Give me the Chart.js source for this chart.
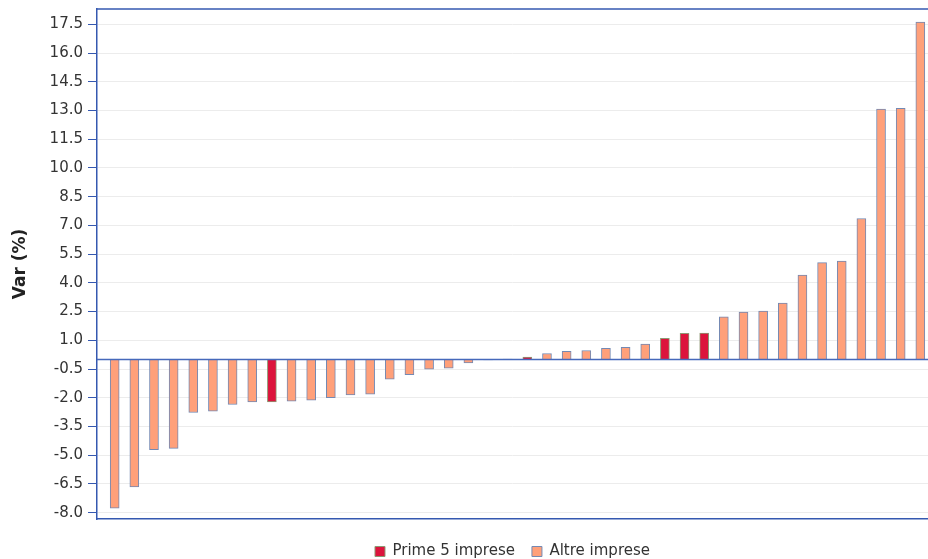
<!DOCTYPE html>
<html>
<head>
<meta charset="utf-8">
<script src="https://cdn.jsdelivr.net/npm/chart.js@4.4.1/dist/chart.umd.min.js"></script>
<style>
  html, body { margin: 0; padding: 0; background: #fff; }
  #wrap { width: 928px; height: 559px; }
</style>
</head>
<body>
<div id="wrap"><canvas id="chart" width="928" height="559"></canvas></div>
<script>
// variation per company, sorted ascending
const values = [
  -7.76, -6.66, -4.71, -4.64, -2.77, -2.70, -2.35, -2.22, -2.22, -2.18,
  -2.12, -1.99, -1.85, -1.81, -1.03, -0.80, -0.51, -0.46, -0.18, -0.03,
  0.02, 0.13, 0.31, 0.43, 0.47, 0.58, 0.64, 0.80, 1.11, 1.37,
  1.38, 2.22, 2.48, 2.53, 2.94, 4.41, 5.06, 5.14, 7.36, 13.08,
  13.11, 17.62
];
// positions of the five largest companies
const topFive = [8, 21, 28, 29, 30];
const seriesNames = ['Prime 5 imprese', 'Altre imprese'];
const yTicks = [-8.0, -6.5, -5.0, -3.5, -2.0, -0.5, 1.0, 2.5, 4.0, 5.5,
  7.0, 8.5, 10.0, 11.5, 13.0, 14.5, 16.0, 17.5];

const FONT = 'DejaVu Sans';
const axisBlue = '#3558b0';

const topPoints = [];
const otherPoints = [];
values.forEach((v, i) => {
  (topFive.includes(i) ? topPoints : otherPoints).push({ x: i, y: v });
});

// zero line and top frame, drawn over the bars
const frameLines = {
  id: 'frameLines',
  afterDatasetsDraw(chart) {
    const { ctx, chartArea: a, scales: { y } } = chart;
    const y0 = y.getPixelForValue(0);
    ctx.save();
    ctx.strokeStyle = '#4669bb';
    ctx.lineWidth = 1.5;
    ctx.beginPath();
    ctx.moveTo(a.left, y0);
    ctx.lineTo(a.right, y0);
    ctx.stroke();
    ctx.strokeStyle = axisBlue;
    ctx.beginPath();
    ctx.moveTo(a.left, a.top);
    ctx.lineTo(a.right, a.top);
    ctx.stroke();
    ctx.restore();
  }
};

new Chart(document.getElementById('chart'), {
  type: 'bar',
  data: {
    datasets: [
      {
        label: seriesNames[0],
        data: topPoints,
        backgroundColor: '#dc143c',
        borderColor: '#8d9873',
        borderWidth: 1
      },
      {
        label: seriesNames[1],
        data: otherPoints,
        backgroundColor: '#ffa07a',
        borderColor: '#7489b3',
        borderWidth: 1
      }
    ]
  },
  options: {
    responsive: false,
    animation: false,
    grouped: false,
    barThickness: 9,
    layout: { padding: { top: 9, left: 0, right: 0, bottom: -10 } },
    scales: {
      x: {
        type: 'linear',
        offset: false,
        min: -0.9,
        max: 41.39,
        ticks: { display: false },
        grid: { display: false },
        border: { display: true, color: axisBlue, width: 1.5 },
        afterFit: s => { s.height = 8; }
      },
      y: {
        min: -8.33,
        max: 18.3,
        afterBuildTicks: s => { s.ticks = yTicks.map(v => ({ value: v })); },
        ticks: {
          autoSkip: false,
          callback: v => v.toFixed(1),
          color: '#333',
          font: { family: FONT, size: 15 },
          padding: 5
        },
        grid: { color: '#ececec', tickColor: axisBlue, tickLength: 9, lineWidth: 1 },
        border: { color: axisBlue, width: 1.5 },
        title: {
          display: true,
          text: 'Var (%)',
          color: '#222',
          font: { family: FONT, size: 17, weight: 'bold' },
          padding: { top: 10, bottom: 0 }
        },
        afterFit: s => {
          s.width = 97;
          s.paddingTop = 0;
          s.paddingBottom = 0;
        }
      }
    },
    plugins: {
      legend: {
        position: 'bottom',
        fullSize: false,
        labels: {
          boxWidth: 10,
          boxHeight: 10,
          padding: 17,
          color: '#333',
          font: { family: FONT, size: 15 }
        }
      },
      tooltip: { enabled: false }
    }
  },
  plugins: [frameLines]
});
</script>
</body>
</html>
